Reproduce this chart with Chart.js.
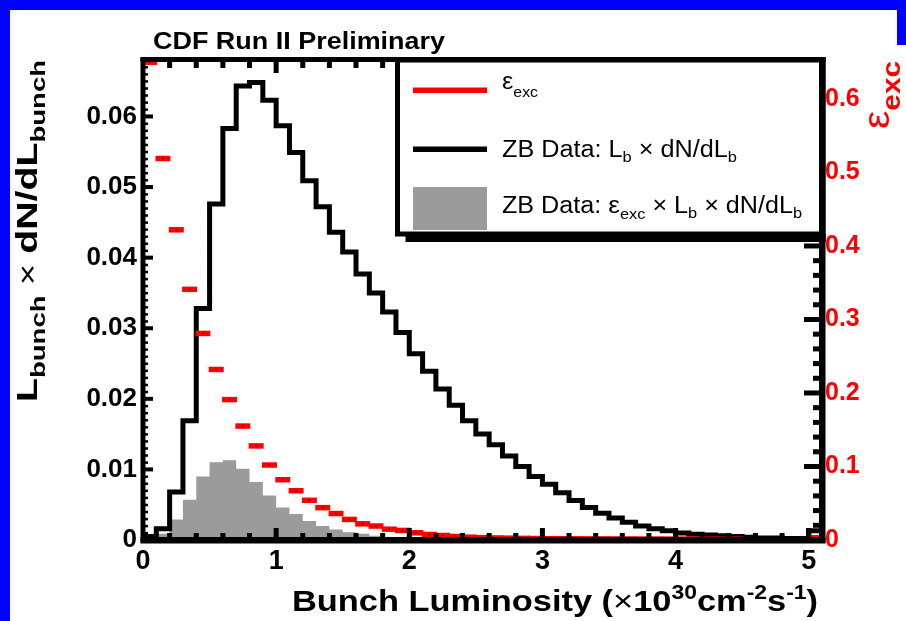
<!DOCTYPE html>
<html>
<head>
<meta charset="utf-8">
<script src="https://cdn.jsdelivr.net/npm/chart.js@4.4.1/dist/chart.umd.min.js"></script>
<style>
  html, body { margin: 0; padding: 0; background: #ffffff; }
  #wrap { width: 906px; height: 621px; }
</style>
</head>
<body>
<div id="wrap"><canvas id="c" width="906" height="621"></canvas></div>
<script>
// ---------- data ----------
const binWidth = 0.1;                 // luminosity bin width (x10^30 cm^-2 s^-1)
const xTickValues = [0, 1, 2, 3, 4, 5];
const xTickLabels = ['0', '1', '2', '3', '4', '5'];
const yTickValues = [0, 0.01, 0.02, 0.03, 0.04, 0.05, 0.06];
const yTickLabels = ['0', '0.01', '0.02', '0.03', '0.04', '0.05', '0.06'];
const y2TickValues = [0, 0.1, 0.2, 0.3, 0.4, 0.5, 0.6];
const y2TickLabels = ['0', '0.1', '0.2', '0.3', '0.4', '0.5', '0.6'];

// ZB Data: L_b x dN/dL_b (black histogram), bins 0.0-0.1 ... 5.0-5.1
const lumiDist = [
  0.0005, 0.0016, 0.0068, 0.0169, 0.0328, 0.0476, 0.0583, 0.0643, 0.0648, 0.0623,
  0.0587, 0.0549, 0.0509, 0.0472, 0.0436, 0.0408, 0.0377, 0.0350, 0.0323, 0.0294,
  0.0264, 0.0239, 0.0214, 0.0191, 0.0169, 0.0150, 0.0135, 0.0119, 0.0104, 0.0090,
  0.0079, 0.0067, 0.0056, 0.0046, 0.0038, 0.0031, 0.0025, 0.0020, 0.0016, 0.0013,
  0.0010, 0.0008, 0.0007, 0.0006, 0.0005, 0.0004, 0.0003, 0.0003, 0.0002, 0.0002,
  0.0013
];
// ZB Data: eps_exc x L_b x dN/dL_b (grey filled histogram)
const effLumiDist = [
  0.0003, 0.0009, 0.0029, 0.0057, 0.0090, 0.0110, 0.0113, 0.0101, 0.0082, 0.0063,
  0.0046, 0.0037, 0.0027, 0.0020, 0.0015, 0.0011, 0.0009, 0.0006, 0.0004, 0.0003,
  0.0002, 0.0002, 0.0001, 0.0001, 0.0001, 0, 0, 0, 0, 0,
  0, 0, 0, 0, 0, 0, 0, 0, 0, 0,
  0, 0, 0, 0, 0, 0, 0, 0, 0, 0,
  0
];
// eps_exc (red markers, right axis), at bin centres
const effExc = [
  0.650, 0.519, 0.422, 0.341, 0.281, 0.232, 0.191, 0.155, 0.128, 0.102,
  0.082, 0.067, 0.054, 0.044, 0.036, 0.028, 0.022, 0.019, 0.0147, 0.013,
  0.0098, 0.0075, 0.0061, 0.0048, 0.0038, 0.0032, 0.0028, 0.0025, 0.0022, 0.0020,
  0.0018, 0.0017, 0.0016, 0.0015, 0.0015, 0.0014, 0.0014, 0.0013, 0.0013, 0.0012,
  0.0012, 0.0011, 0.0011, 0.0010, 0.0010, null, null, null, null, null,
  0.003
];

// ---------- helpers building library data ----------
function histPoints(arr) {
  const pts = [{ x: 0, y: 0 }];
  arr.forEach((v, i) => pts.push({ x: +(i * binWidth).toFixed(3), y: v }));
  pts.push({ x: +(arr.length * binWidth).toFixed(3), y: 0 });
  return pts;
}
function centrePoints(arr) {
  const pts = [];
  arr.forEach((v, i) => { if (v !== null) pts.push({ x: +((i + 0.5) * binWidth).toFixed(3), y: v }); });
  return pts;
}

const FONT = '"Liberation Sans", Arial, Helvetica, sans-serif';

function rich(ctx, segs, x, y, opt) {
  opt = opt || {};
  let w = 0;
  segs.forEach(s => { ctx.font = s.font; w += ctx.measureText(s.t).width; });
  const sx = opt.width ? opt.width / w : (opt.sx || 1);
  ctx.save();
  ctx.translate(x, y);
  if (opt.rot) ctx.rotate(opt.rot);
  ctx.scale(sx, 1);
  ctx.textBaseline = 'alphabetic';
  ctx.textAlign = 'left';
  let cx = 0;
  segs.forEach(s => {
    ctx.font = s.font;
    ctx.fillStyle = s.color || '#000';
    ctx.fillText(s.t, cx, s.dy || 0);
    cx += ctx.measureText(s.t).width;
  });
  ctx.restore();
}

const decor = {
  id: 'decor',
  beforeDraw(chart) {
    const ctx = chart.ctx;
    ctx.save();
    ctx.fillStyle = '#0000ff';
    ctx.fillRect(0, 0, 906, 621);
    ctx.fillStyle = '#ffffff';
    ctx.fillRect(10, 10, 896, 611);
    ctx.fillStyle = '#0000ff';
    ctx.fillRect(897, 0, 9, 45);
    ctx.restore();
  },
  afterDatasetsDraw(chart) {
    const ctx = chart.ctx;
    const a = chart.chartArea;
    const xs = chart.scales.x, ys = chart.scales.y, y2 = chart.scales.y2;
    const L = a.left, R = a.right, T = a.top, B = a.bottom;
    ctx.save();
    ctx.fillStyle = '#000';
    // x ticks (bottom & top, inward)
    for (let i = 1; i <= 25; i++) {
      const px = xs.getPixelForValue(i * 0.2);
      const major = i % 5 === 0;
      const len = major ? 12 : 7;
      ctx.fillRect(px - 2.5, B - len, 5, len);
      ctx.fillRect(px - 2.5, T, 5, major ? 13 : 8);
    }
    // left ticks
    for (let i = 1; i <= 68; i++) {
      const py = ys.getPixelForValue(i * 0.001);
      if (i % 10 === 0) ctx.fillRect(L, py - 2, 10, 4);
      else ctx.fillRect(L, py - 1, 5, 2.5);
    }
    // right ticks
    for (let i = 1; i <= 32; i++) {
      const py = y2.getPixelForValue(i * 0.02);
      if (i % 5 === 0) ctx.fillRect(R - 18, py - 2.5, 18, 5);
      else ctx.fillRect(R - 9, py - 2.5, 9, 5);
    }
    // frame
    ctx.fillRect(L - 2.5, T - 2.5, 5, B - T + 5);
    ctx.fillRect(L - 2.5, B - 3, R - L + 6, 6.5);
    ctx.fillRect(L - 2.5, T - 3, R - L + 6, 5);
    ctx.fillRect(R - 3, T - 3, 6.5, B - T + 6);

    // legend box with shadow (shadow merges into right axis)
    const lx0 = 397.5, ly0 = T, lx1 = R, ly1 = 234;
    ctx.fillStyle = '#000';
    ctx.fillRect(lx0 + 8, ly1, lx1 - lx0 - 4.5, 8);
    ctx.fillStyle = '#fff';
    ctx.fillRect(lx0, ly0, lx1 - lx0, ly1 - ly0);
    ctx.strokeStyle = '#000';
    ctx.lineWidth = 5;
    ctx.strokeRect(lx0, ly0, lx1 - lx0, ly1 - ly0);
    ctx.fillStyle = '#000';
    ctx.fillRect(R - 3, T - 3, 6.5, ly1 - T + 11);
    // legend samples
    ctx.fillStyle = '#ff0000';
    ctx.fillRect(413, 87.5, 74, 5.5);
    ctx.fillStyle = '#000';
    ctx.fillRect(413, 146.5, 74, 5.5);
    ctx.fillStyle = '#9b9b9b';
    ctx.fillRect(413, 187, 74, 43);
    const fr = '23px ' + FONT, fs = '15px ' + FONT;
    rich(ctx, [
      { t: 'ε', font: '24px ' + FONT },
      { t: 'exc', font: fs, dy: 8 }
    ], 502, 88.5, { width: 36 });
    rich(ctx, [
      { t: 'ZB Data: L', font: fr },
      { t: 'b', font: fs, dy: 5 },
      { t: ' × dN/dL', font: fr },
      { t: 'b', font: fs, dy: 5 }
    ], 502, 156.7, { width: 235 });
    rich(ctx, [
      { t: 'ZB Data: ', font: fr },
      { t: 'ε', font: '24px ' + FONT },
      { t: 'exc', font: fs, dy: 6 },
      { t: ' × L', font: fr },
      { t: 'b', font: fs, dy: 5 },
      { t: ' × dN/dL', font: fr },
      { t: 'b', font: fs, dy: 5 }
    ], 502, 213.3, { width: 300 });

    // titles
    rich(ctx, [{ t: 'CDF Run II Preliminary', font: 'bold 23px ' + FONT }], 153, 48.7, { width: 292 });
    const bb = 'bold 30px ' + FONT, bs = 'bold 20px ' + FONT;
    rich(ctx, [
      { t: 'Bunch Luminosity (', font: bb },
      { t: '×', font: '30px ' + FONT },
      { t: '10', font: bb },
      { t: '30', font: bs, dy: -12 },
      { t: 'cm', font: bb },
      { t: '-2', font: bs, dy: -12 },
      { t: 's', font: bb },
      { t: '-1', font: bs, dy: -12 },
      { t: ')', font: bb }
    ], 292, 611, { width: 526 });
    rich(ctx, [
      { t: 'L', font: bb },
      { t: 'bunch', font: 'bold 21px ' + FONT, dy: 8 },
      { t: ' × ', font: '28px ' + FONT },
      { t: 'dN/dL', font: bb },
      { t: 'bunch', font: 'bold 21px ' + FONT, dy: 8 }
    ], 37, 402, { width: 342, rot: -Math.PI / 2 });
    rich(ctx, [
      { t: 'ε', font: '36px ' + FONT, color: '#ff0000' },
      { t: 'exc', font: 'bold 26px ' + FONT, color: '#ff0000', dy: 11 }
    ], 889, 129, { width: 68, rot: -Math.PI / 2 });
    ctx.restore();
  }
};

const ctx = document.getElementById('c').getContext('2d');
new Chart(ctx, {
  type: 'line',
  data: {
    datasets: [
      {
        label: 'eps markers',
        data: centrePoints(effExc),
        yAxisID: 'y2',
        showLine: false,
        pointStyle: 'circle',
        pointRadius: 0.8,
        pointBackgroundColor: '#000',
        pointBorderWidth: 0,
        order: 0
      },
      {
        label: 'ε_exc',
        data: centrePoints(effExc),
        yAxisID: 'y2',
        showLine: false,
        pointStyle: 'line',
        pointRadius: 7.5,
        pointBorderWidth: 5.5,
        pointBorderColor: '#ff0000',
        pointBackgroundColor: '#ff0000',
        order: 1
      },
      {
        label: 'ZB Data: L_b × dN/dL_b',
        data: histPoints(lumiDist),
        yAxisID: 'y',
        stepped: 'before',
        borderColor: '#000',
        borderWidth: 5,
        borderJoinStyle: 'miter',
        pointRadius: 0,
        fill: false,
        order: 2
      },
      {
        label: 'ZB Data: ε_exc × L_b × dN/dL_b',
        data: histPoints(effLumiDist),
        yAxisID: 'y',
        stepped: 'before',
        borderWidth: 0,
        borderColor: 'rgba(0,0,0,0)',
        backgroundColor: '#9b9b9b',
        pointRadius: 0,
        fill: 'origin',
        order: 3
      }
    ]
  },
  options: {
    responsive: false,
    animation: false,
    devicePixelRatio: 1,
    layout: { padding: { left: 83, right: 14, top: 60, bottom: 41 } },
    plugins: { legend: { display: false }, tooltip: { enabled: false } },
    scales: {
      x: {
        type: 'linear', position: 'bottom', min: 0, max: 5.1,
        afterBuildTicks: s => { s.ticks = xTickValues.map(v => ({ value: v })); },
        afterFit: s => { s.height = 40; },
        ticks: {
          autoSkip: false, maxRotation: 0, padding: 5, color: '#000',
          font: { family: FONT, size: 27, weight: 'bold' },
          callback: (v, i) => xTickLabels[i]
        },
        grid: { display: false, drawTicks: false, tickLength: 0 },
        border: { display: false }
      },
      y: {
        type: 'linear', position: 'left', min: 0, max: 0.068,
        afterBuildTicks: s => { s.ticks = yTickValues.map(v => ({ value: v })); },
        afterFit: s => { s.width = 60; },
        ticks: {
          autoSkip: false, padding: 6, color: '#000',
          font: { family: FONT, size: 26, weight: 'bold' },
          callback: (v, i) => yTickLabels[i]
        },
        grid: { display: false, drawTicks: false, tickLength: 0 },
        border: { display: false }
      },
      y2: {
        type: 'linear', position: 'right', min: 0, max: 0.653,
        afterBuildTicks: s => { s.ticks = y2TickValues.map(v => ({ value: v })); },
        afterFit: s => { s.width = 70; },
        ticks: {
          autoSkip: false, padding: 3, color: '#ff0000',
          font: { family: FONT, size: 25, weight: 'bold' },
          callback: (v, i) => y2TickLabels[i]
        },
        grid: { display: false, drawTicks: false, tickLength: 0 },
        border: { display: false }
      }
    }
  },
  plugins: [decor]
});
</script>
</body>
</html>
